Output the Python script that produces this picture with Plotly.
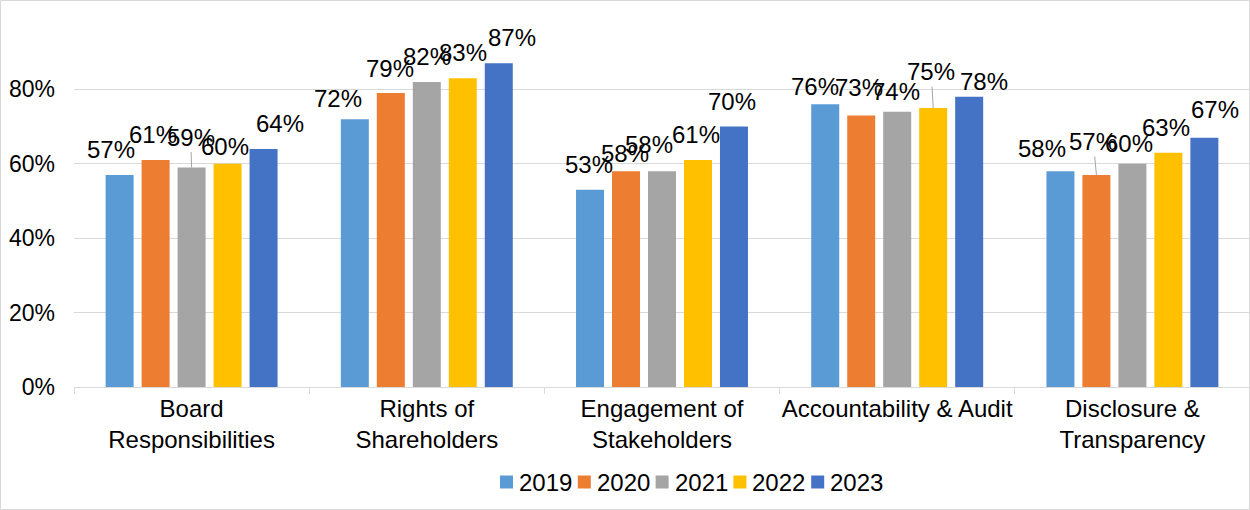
import plotly.graph_objects as go

# ---------------- data ----------------
categories = ["Board<br>Responsibilities", "Rights of<br>Shareholders",
              "Engagement of<br>Stakeholders", "Accountability & Audit",
              "Disclosure &<br>Transparency"]
years = ["2019", "2020", "2021", "2022", "2023"]
v2019 = [0.57, 0.72, 0.53, 0.76, 0.58]
v2020 = [0.61, 0.79, 0.58, 0.73, 0.57]
v2021 = [0.59, 0.82, 0.58, 0.74, 0.60]
v2022 = [0.60, 0.83, 0.61, 0.75, 0.63]
v2023 = [0.64, 0.87, 0.70, 0.78, 0.67]
series_values = [v2019, v2020, v2021, v2022, v2023]
y_ticks = [0, 0.2, 0.4, 0.6, 0.8]

# ---------------- styles ----------------
colors = ["#5B9BD5", "#ED7D31", "#A5A5A5", "#FFC000", "#4472C4"]
FONT = "Liberation Sans, Arial, sans-serif"
W, H = 1250, 510
ML, MR, MT, MB = 74, 0, 15, 123
PW, PH = W - ML - MR, H - MT - MB
SLOT = 36  # px per bar slot inside a group

# label nudges (px): (dx, up) keyed by (category index, series index)
nudge = {
    (0, 0): (-9, 0), (0, 1): (-3, 0), (0, 2): (-1, 5), (0, 3): (-3, -8), (0, 4): (16, 0),
    (1, 0): (-17, -5), (1, 1): (-1, -1), (1, 2): (0, 0), (1, 3): (0, 0), (1, 4): (13, 0),
    (2, 0): (-1, 0), (2, 1): (-1, -8), (2, 2): (-13, 1), (2, 3): (-2, 0), (2, 4): (-2, 0),
    (3, 0): (-10, -8), (3, 1): (-2, 2), (3, 2): (-1, -5), (3, 3): (-2, 11), (3, 4): (15, -10),
    (4, 0): (-18, -3), (4, 1): (-3, 8), (4, 2): (-3, -5), (4, 3): (-2, 0), (4, 4): (11, 3),
}
leaders = {(0, 2), (3, 3), (4, 1)}

fig = go.Figure()
for name, vals, col in zip(years, series_values, colors):
    fig.add_trace(go.Bar(name=name, x=categories, y=vals,
                         marker=dict(color=col, line=dict(width=0)),
                         showlegend=False, hoverinfo="skip"))

annotations = []
for si, vals in enumerate(series_values):
    for ci, v in enumerate(vals):
        dx, up = nudge.get((ci, si), (0, 0))
        base_shift = (si - 2) * SLOT
        txt = f"{round(v * 100):d}%"
        if (ci, si) in leaders:
            annotations.append(dict(
                x=categories[ci], y=v, xref="x", yref="y", text=txt,
                xshift=base_shift, showarrow=True, arrowhead=0, arrowwidth=1,
                arrowcolor="#A6A6A6", ax=dx, ay=-(25.5 + up), standoff=0,
                font=dict(family=FONT, size=24, color="#000000")))
        else:
            annotations.append(dict(
                x=categories[ci], y=v, xref="x", yref="y", text=txt,
                xshift=base_shift + dx, yshift=25.5 + up, showarrow=False,
                yanchor="middle", xanchor="center",
                font=dict(family=FONT, size=24, color="#000000")))

# manual legend (pixel layout converted to paper coords)
def px_x(p):
    return (p - ML) / PW

def px_y(p):
    return (H - MB - p) / PH

shapes = []
leg_x0, leg_step, leg_cy, sq = 500, 77.8, 482, 13
for i, (name, col) in enumerate(zip(years, colors)):
    x0 = leg_x0 + i * leg_step
    shapes.append(dict(type="rect", xref="paper", yref="paper",
                       x0=px_x(x0), x1=px_x(x0 + sq),
                       y0=px_y(leg_cy + sq / 2), y1=px_y(leg_cy - sq / 2),
                       fillcolor=col, line=dict(width=0)))
    annotations.append(dict(x=px_x(x0 + sq + 4), y=px_y(leg_cy), xref="paper", yref="paper",
                            text=name, showarrow=False, xanchor="left", yanchor="middle",
                            font=dict(family=FONT, size=24, color="#000000")))

# chart border
shapes.append(dict(type="rect", xref="paper", yref="paper",
                   x0=px_x(0.5), x1=px_x(W - 0.5), y0=px_y(H - 0.5), y1=px_y(0.5),
                   line=dict(color="#D9D9D9", width=1), fillcolor="rgba(0,0,0,0)"))

fig.update_layout(
    width=W, height=H, autosize=False,
    margin=dict(l=ML, r=MR, t=MT, b=MB, pad=0, autoexpand=False),
    paper_bgcolor="white", plot_bgcolor="white",
    barmode="group", bargap=0.235, bargroupgap=0.222,
    font=dict(family=FONT, size=23, color="#000000"),
    annotations=annotations, shapes=shapes,
    showlegend=False, hovermode=False,
)
fig.update_xaxes(type="category", showline=True, linecolor="#D9D9D9", linewidth=1,
                 ticks="outside", tickson="boundaries", ticklen=6, tickcolor="#D9D9D9",
                 tickangle=0, automargin=False,
                 tickfont=dict(family=FONT, size=24, color="#000000"), showgrid=False)
fig.update_yaxes(range=[0, 1], tickvals=y_ticks, tickformat=".0%",
                 gridcolor="#D9D9D9", gridwidth=1, showline=False, zeroline=False,
                 ticklabelstandoff=18, automargin=False,
                 tickfont=dict(family=FONT, size=23, color="#000000"))

fig.write_html("out.html", config={"displayModeBar": False},
               post_script="document.body.style.margin='0';document.body.style.overflow='hidden';")
